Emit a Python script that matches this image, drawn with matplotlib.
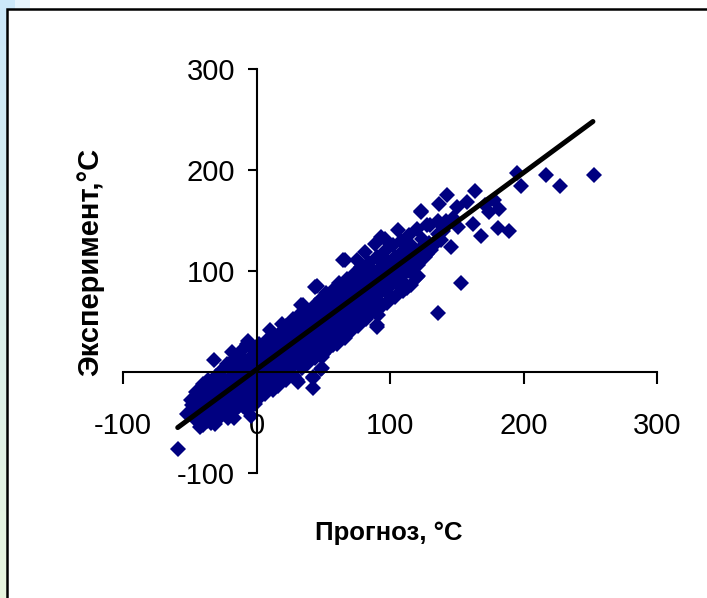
#!/usr/bin/env python3
# -*- coding: utf-8 -*-

import numpy as np
import matplotlib
matplotlib.use("Agg")
import matplotlib.pyplot as plt
from matplotlib.patches import Rectangle


prognoz = [
    -59, -49, -42, -37, -31, -17, -7, -3, -40, -35,
    -32, -18, -7, -12, -6, -44, -21, -4, -3, 5,
    0, 3, 31, 42, 42, 49, 57, 63, 19, 33,
    45, 10, 27, 14, 18, 30, 42, 48, 49, 56,
    63, 69, 76, 41, 33, 11, -2,
    123, 130, 136, 136, 106, 96, 89, 81, 66, 75,
    118, 113, 106, 100, 91, 81, 91, 90, 136, 128, 121,
    253, 217, 227, 198, 195, 164, 143, 137, 158, 178,
    174, 182, 181, 189, 168, 146, 162, 153, 151, 136,
    128, 93, 65, 44, 35, 113, 101, 120, 82, 90,
    57, 138, 128, 150, 142, 131, 126, 171, 123,
    # dense band
    -52, -48, -47, -45, -44, -42, -41, -39, -38, -36,
    -35, -34, -33, -31, -30, -29, -28, -27, -26, -25,
    -24, -23, -22, -21, -20, -19, -18, -17, -16, -15,
    -14, -13, -12, -11, -10, -9, -8, -8, -7, -6,
    -5, -4, -3, -2, -1, 0, 0, 1, 2, 3,
    4, 5, 6, 6, 7, 8, 9, 10, 10, 11,
    12, 13, 14, 15, 15, 16, 17, 18, 19, 20,
    21, 22, 23, 24, 25, 26, 27, 28, 29, 30,
    31, 32, 33, 34, 35, 36, 37, 38, 39, 40,
    41, 42, 43, 44, 45, 46, 47, 48, 49, 50,
    51, 52, 53, 54, 55, 56, 57, 58, 59, 60,
    61, 62, 63, 64, 65, 66, 67, 68, 69, 70,
    71, 72, 73, 74, 75, 76, 77, 78, 79, 80,
    81, 82, 83, 84, 85, 86, 87, 88, 89, 90,
    92, 93, 94, 96, 97, 98, 99, 101, 102, 104,
    105, 107, 108, 110, 111, 113, 114, 116, 117, 119,
    121, 124, 126, 129, 133, 140, 147,
    5, 15, 25, 35, 45, 55, 65, 75, 20, 30, 40, 50,
    # upper edge of band
    -45, -40, -36, -30, -26, -22, -16, -12, -4, 2,
    8, 12, 18, 22, 28, 32, 38, 44, 48, 52,
    58, 62, 68, 74, 78, 84, 90, 96, 102, 108,
    114, 120,
    # lower edge of band
    -40, -34, -28, -22, -16, -10, -4, 0, 6, 12,
    16, 22, 28, 34, 38, 44, 50, 54, 60, 66,
    70, 76, 82, 86, 92, 98, 104, 110, 116,
    # middle of band
    -40, -32, -24, -18, -10, -6, 2, 6, 12, 16,
    22, 26, 32, 36, 42, 46, 52, 56, 62, 66,
    72, 76, 82, 86, 92, 96, 100, 106, 112, 118,
    124,
]
experiment = [
    -76, -28, -54, -49, -51, -46, -38, -28, -16, -10,
    12, 20, 28, 17, 31, -36, -46, -44, -24, -21,
    -21, -24, -10, -16, -5, 4, 28, 38, 48, 66,
    85, 42, 52, -8, -3, -8, -6, 3, 15, 27,
    35, 45, 58, 15, 9, -5, -8,
    158, 146, 150, 137, 141, 132, 127, 119, 111, 111,
    96, 85, 86, 75, 71, 56, 56, 47, 58, 117, 95,
    195, 195, 184, 184, 197, 179, 175, 166, 168, 170,
    158, 161, 143, 140, 135, 124, 147, 88, 144, 149,
    146, 134, 111, 84, 66, 83, 75, 94, 55, 45,
    27, 131, 124, 163, 150, 121, 114, 165, 159,
    # dense band
    -42, -33, -46, -40, -24, -31, -44, -36, -22, -28,
    -41, -18, -33, -24, -12, -38, -29, -4, -20, -34,
    -14, -26, -40, -8, -19, 2, -30, -12, -24, 6,
    -17, -34, -6, -22, 10, -14, -30, 2, -8, -18,
    14, -3, -13, 6, -32, -6, 18, 2, -15, 10,
    -4, 22, 5, -10, 14, -2, 26, 8, -14, 18,
    2, 30, 12, -4, 22, 6, 34, 16, 0, 26,
    10, 38, 20, 4, 30, 14, 42, 24, 8, 34,
    18, 46, 28, 12, 38, 22, 50, 32, 16, 42,
    26, 54, 36, 20, 46, 30, 60, 40, 24, 50,
    36, 64, 44, 30, 56, 40, 70, 50, 34, 60,
    46, 74, 56, 40, 66, 50, 80, 60, 46, 70,
    56, 86, 64, 50, 76, 62, 90, 70, 56, 80,
    66, 96, 74, 60, 86, 72, 100, 80, 66, 92,
    78, 104, 86, 98, 82, 110, 92, 102, 88, 114,
    98, 108, 94, 120, 104, 114, 100, 126, 108, 120,
    106, 132, 116, 128, 126, 140, 152,
    12, 14, 22, 30, 38, 48, 58, 68, 18, 26, 34, 42,
    # upper edge of band
    -20, -12, -8, -4, 2, 8, 14, 20, 24, 28,
    32, 36, 40, 46, 50, 56, 60, 66, 72, 78,
    82, 88, 92, 98, 104, 108, 114, 120, 126, 130,
    136, 142,
    # lower edge of band
    -52, -50, -46, -44, -38, -34, -30, -26, -22, -18,
    -14, -8, -4, 4, 8, 14, 18, 24, 28, 34,
    40, 46, 52, 58, 62, 68, 74, 80, 86,
    # middle of band
    -28, -20, -10, -4, 0, 4, 0, 14, 10, 20,
    18, 28, 24, 36, 30, 44, 40, 52, 48, 62,
    58, 72, 68, 80, 88, 90, 96, 104, 108, 114,
    124,
]

# trend line end points
trend_x = [-59, 252]
trend_y = [-55, 248]

ticks = [-100, 0, 100, 200, 300]

W, H = 707, 598


def draw_background(fig):
    bg = fig.add_axes([0, 0, 1, 1], zorder=0)
    top = np.array([0.80, 0.91, 0.98])
    bottom = np.array([0.91, 0.96, 0.87])
    t = np.linspace(0, 1, 200)[:, None]
    grad = (top * (1 - t) + bottom * t)[:, None, :]
    bg.imshow(grad, extent=[0, 7, H, 0], aspect="auto")
    corner = np.ones((1, 30, 3)) * top
    corner[0, 15:, :] = top * 0.5 + 0.5
    bg.imshow(corner, extent=[0, 30, 9, 0], aspect="auto")
    bg.add_patch(Rectangle((7, 9), 800, 700, facecolor="white",
                           edgecolor="black", linewidth=1.8))
    bg.set_xlim(0, W)
    bg.set_ylim(H, 0)
    bg.axis("off")


def main():
    plt.rcParams["font.family"] = ["Liberation Sans Narrow", "Liberation Sans",
                                   "DejaVu Sans"]
    plt.rcParams["axes.unicode_minus"] = False

    fig = plt.figure(figsize=(W / 100, H / 100), dpi=100)
    draw_background(fig)

    ax = fig.add_axes([123 / W, 125 / H, 534 / W, 404 / H], zorder=1)
    ax.patch.set_alpha(0)

    ax.plot(prognoz, experiment, linestyle="none", marker="D",
            markersize=8, color="#000080", markeredgewidth=0)
    ax.plot(trend_x, trend_y, color="black", linewidth=3.6,
            solid_capstyle="round")

    ax.set_xlim(-100, 300)
    ax.set_ylim(-100, 300)
    ax.spines["left"].set_position(("data", 0))
    ax.spines["bottom"].set_position(("data", 0))
    ax.spines["right"].set_visible(False)
    ax.spines["top"].set_visible(False)
    for s in ("left", "bottom"):
        ax.spines[s].set_linewidth(1.5)
    ax.set_xticks(ticks)
    ax.set_yticks(ticks)
    ax.tick_params(axis="x", direction="out", length=8.5, width=1.5,
                   pad=20, labelsize=21)
    ax.tick_params(axis="y", direction="out", length=6.5, width=1.5,
                   pad=9, labelsize=21)

    fig.text(90 / W, 1 - 262 / H, "Эксперимент,°C", rotation=90,
             ha="center", va="center", fontsize=21, fontweight="bold",
             family=["Liberation Sans", "DejaVu Sans"])
    fig.text(389 / W, 1 - 533 / H, "Прогноз, °C", ha="center", va="center",
             fontsize=18.5, fontweight="bold")

    fig.savefig("out.png", dpi=100)


if __name__ == "__main__":
    main()
